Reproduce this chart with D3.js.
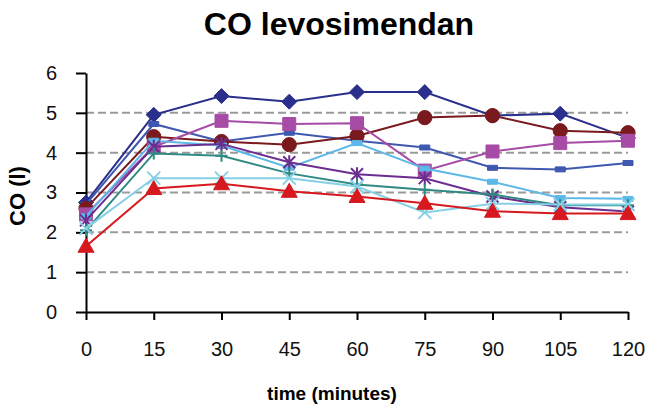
<!DOCTYPE html>
<meta charset="utf-8">
<style>
    body {
        margin: 0;
        background: #fff;
        font-family: "Liberation Sans", Arial, sans-serif;
    }
    .axis path, .axis line {
        stroke: #000;
        stroke-width: 2;
    }
    .axis text {
        fill: #111;
        font: 20px "Liberation Sans", Arial, sans-serif;
    }
    .grid line {
        stroke: #9a9a9a;
        stroke-width: 2;
        stroke-dasharray: 8 4;
    }
    .title {
        font: bold 32px "Liberation Sans", Arial, sans-serif;
    }
    .label {
        font: bold 19px "Liberation Sans", Arial, sans-serif;
    }
    .ylabel {
        font: bold 22px "Liberation Sans", Arial, sans-serif;
    }
</style>
<body>
<script src="https://cdn.jsdelivr.net/npm/d3@7"></script>
<script>
    // time points (minutes)
    var times = [0, 15, 30, 45, 60, 75, 90, 105, 120];
    var yTicks = [0, 1, 2, 3, 4, 5, 6];

    // CO (l) per patient
    var navyDiamond = [2.75, 4.95, 5.42, 5.28, 5.52, 5.52, 4.93, 4.98, 4.37];
    var royalDash   = [2.7, 4.72, 4.28, 4.5, 4.3, 4.13, 3.62, 3.58, 3.74];
    var maroonCircle = [2.6, 4.4, 4.28, 4.2, 4.42, 4.88, 4.93, 4.55, 4.5];
    var orchidSquare = [2.45, 4.15, 4.8, 4.72, 4.74, 3.55, 4.03, 4.24, 4.3];
    var skyDash     = [2.4, 4.3, 4.18, 3.62, 4.24, 3.6, 3.27, 2.86, 2.84];
    var purpleStar  = [2.3, 4.15, 4.22, 3.76, 3.46, 3.36, 2.9, 2.63, 2.52];
    var tealPlus    = [2.05, 3.98, 3.92, 3.48, 3.2, 3.07, 2.95, 2.68, 2.68];
    var cyanCross   = [2.1, 3.36, 3.36, 3.36, 3.15, 2.5, 2.72, 2.7, 2.7];
    var redTriangle = [1.65, 3.1, 3.22, 3.03, 2.9, 2.73, 2.53, 2.47, 2.47];

    var series = [
        {name: "navy", values: navyDiamond, color: "#2b2f8c", marker: "diamond"},
        {name: "royal", values: royalDash, color: "#3f58b0", marker: "dash"},
        {name: "maroon", values: maroonCircle, color: "#7a1a1e", marker: "circle"},
        {name: "orchid", values: orchidSquare, color: "#a64ca6", marker: "square"},
        {name: "sky", values: skyDash, color: "#5cb8e8", marker: "dash"},
        {name: "purple", values: purpleStar, color: "#6b2d8f", marker: "star"},
        {name: "teal", values: tealPlus, color: "#2f8a84", marker: "plus"},
        {name: "cyan", values: cyanCross, color: "#86d0e6", marker: "x"},
        {name: "red", values: redTriangle, color: "#d7191f", marker: "triangle"}
    ];

    var width = 654, height = 416;
    var margin = {top: 73, right: 26, bottom: 104, left: 86};

    var x = d3.scaleLinear().domain([0, 120]).range([margin.left, width - margin.right]);
    var y = d3.scaleLinear().domain([0, 6]).range([height - margin.bottom, margin.top]);

    var svg = d3.select("body").append("svg")
        .attr("width", width)
        .attr("height", height);

    svg.append("text")
        .attr("class", "title")
        .attr("x", 339)
        .attr("y", 35)
        .attr("text-anchor", "middle")
        .text("CO levosimendan");

    // dashed grid
    svg.append("g")
        .attr("class", "grid")
        .selectAll("line")
        .data(yTicks.filter(function(d) { return d > 0 && d < 6; }))
        .enter().append("line")
        .attr("x1", x(0))
        .attr("x2", x(120))
        .attr("y1", function(d) { return y(d); })
        .attr("y2", function(d) { return y(d); });

    svg.append("g")
        .attr("class", "axis")
        .attr("transform", "translate(0," + y(0) + ")")
        .call(d3.axisBottom(x).tickValues(times).tickSize(8).tickSizeOuter(0).tickPadding(22));

    svg.append("g")
        .attr("class", "axis")
        .attr("transform", "translate(" + x(0) + ",0)")
        .call(d3.axisLeft(y).tickValues(yTicks).tickFormat(d3.format("d"))
            .tickSize(10).tickSizeOuter(0).tickPadding(19));

    svg.append("text")
        .attr("class", "label")
        .attr("x", 332)
        .attr("y", 400)
        .attr("text-anchor", "middle")
        .text("time (minutes)");

    svg.append("text")
        .attr("class", "ylabel")
        .attr("transform", "translate(25,196) rotate(-90)")
        .attr("text-anchor", "middle")
        .text("CO (l)");

    var line = d3.line()
        .x(function(d, i) { return x(times[i]); })
        .y(function(d) { return y(d); });

    var markers = {
        diamond: "M0,-7.5L7.5,0L0,7.5L-7.5,0Z",
        dash: "M-5,-2.5H5V2.5H-5Z",
        circle: d3.symbol().type(d3.symbolCircle).size(160)(),
        square: "M-6.5,-6.5H6.5V6.5H-6.5Z",
        star: "M-6,-6L6,6M-6,6L6,-6M0,-7V7",
        plus: "M-6,0H6M0,-6V6",
        x: "M-6.5,-6.5L6.5,6.5M-6.5,6.5L6.5,-6.5",
        triangle: "M0,-8L8,6H-8Z"
    };
    var stroked = {star: true, plus: true, x: true};

    series.forEach(function(s) {
        var g = svg.append("g").attr("class", "series " + s.name);
        g.append("path")
            .datum(s.values)
            .attr("fill", "none")
            .attr("stroke", s.color)
            .attr("stroke-width", 2)
            .attr("d", line);
        g.selectAll(".pt")
            .data(s.values)
            .enter().append("path")
            .attr("class", "pt")
            .attr("transform", function(d, i) { return "translate(" + x(times[i]) + "," + y(d) + ")"; })
            .attr("d", markers[s.marker])
            .attr("fill", stroked[s.marker] ? "none" : s.color)
            .attr("stroke", s.color)
            .attr("stroke-width", stroked[s.marker] ? 2 : 1);
    });
</script>
</body>
